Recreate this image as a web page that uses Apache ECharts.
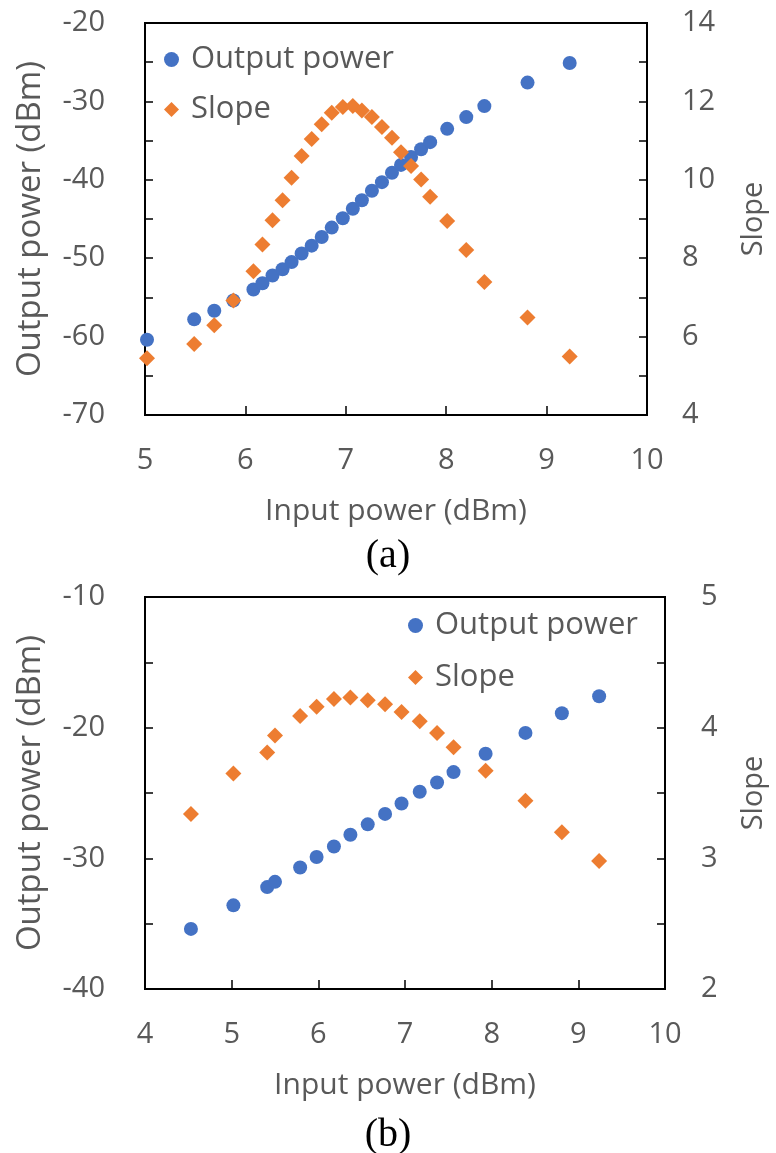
<!DOCTYPE html>
<html>
<head>
<meta charset="utf-8">
<script src="https://cdn.jsdelivr.net/npm/echarts@6/dist/echarts.min.js"></script>
<style>
html,body{margin:0;padding:0;background:#fff;}
#c{width:776px;height:1153px;}
</style>
</head>
<body>
<div id="c"></div>
<script>
// ---- Data: panel (a) ----
const aInput = [5.02,5.49,5.69,5.88,6.08,6.17,6.27,6.37,6.46,6.56,6.66,6.76,6.86,6.97,7.07,7.16,7.26,7.36,7.46,7.55,7.65,7.75,7.84,8.01,8.20,8.38,8.81,9.23];
const aOutput = [-60.4,-57.8,-56.7,-55.4,-54.0,-53.2,-52.2,-51.4,-50.5,-49.4,-48.4,-47.3,-46.1,-44.9,-43.7,-42.6,-41.4,-40.3,-39.1,-38.1,-37.1,-36.1,-35.2,-33.5,-32.0,-30.6,-27.6,-25.1];
const aSlope = [5.45,5.81,6.29,6.92,7.67,8.35,8.97,9.48,10.05,10.61,11.04,11.42,11.71,11.86,11.88,11.77,11.60,11.35,11.07,10.70,10.35,10.01,9.57,8.95,8.21,7.39,6.49,5.49];

// ---- Data: panel (b) ----
const bInput = [4.53,5.02,5.41,5.50,5.79,5.98,6.18,6.37,6.57,6.77,6.96,7.17,7.37,7.56,7.93,8.39,8.81,9.24];
const bOutput = [-35.4,-33.6,-32.2,-31.8,-30.7,-29.9,-29.1,-28.2,-27.4,-26.6,-25.8,-24.9,-24.2,-23.4,-22.0,-20.4,-18.9,-17.6];
const bSlope = [3.34,3.65,3.81,3.94,4.09,4.16,4.22,4.23,4.21,4.18,4.12,4.05,3.96,3.85,3.67,3.44,3.20,2.98];

const names = ['Output power', 'Slope'];
const panelLabels = ['(a)', '(b)'];
const xTitle = 'Input power (dBm)';
const yLeftTitle = 'Output power (dBm)';
const yRightTitle = 'Slope';

const BLUE = '#4472C4', ORANGE = '#ED7D31', GREY = '#595959';
const FONT = 'Open Sans';

function pairs(xs, ys){ return xs.map((x,i)=>[x, ys[i]]); }

function xAxisCfg(grid, min, max){
  return {
    type:'value', gridIndex:grid, min:min, max:max, interval:1,
    name:xTitle, nameLocation:'middle', nameGap:81,
    nameTextStyle:{color:GREY, fontSize:30, fontFamily:FONT},
    axisLine:{show:true, onZero:false, lineStyle:{color:'#000', width:2}},
    axisTick:{show:true, inside:true, length:9, lineStyle:{color:'#000', width:1.5}},
    axisLabel:{color:GREY, fontSize:29, fontFamily:FONT, margin:31},
    splitLine:{show:false}
  };
}
function yAxisCfg(grid, pos, min, max, interval, labelStep, title, nameGap, nameSize, margin){
  return {
    type:'value', gridIndex:grid, position:pos, min:min, max:max, interval:interval,
    name:title, nameLocation:'middle', nameRotate:90, nameGap:nameGap,
    nameTextStyle:{color:GREY, fontSize:nameSize, fontFamily:FONT},
    axisLine:{show:true, onZero:false, lineStyle:{color:'#000', width:2}},
    axisTick:{show:true, inside:true, length:8, lineStyle:{color:'#000', width:1.5}},
    axisLabel:{color:GREY, fontSize:29, fontFamily:FONT, margin:margin,
      formatter:function(v){
        const r = Math.round(v/labelStep*1000)/1000;
        return Math.abs(r - Math.round(r)) < 1e-6 ? String(v) : '';
      }},
    splitLine:{show:false}
  };
}

function legendCfg(left, top, gap){
  return {orient:'vertical', left:left, top:top, itemWidth:15, itemHeight:15, itemGap:gap,
    data:[{name:names[0], icon:'circle', itemStyle:{}},{name:names[1], icon:'diamond'}],
    textStyle:{color:GREY, fontSize:31, fontFamily:FONT, padding:[0,0,0,7]}};
}

const chart = echarts.init(document.getElementById('c'), null, {renderer:'canvas'});
chart.setOption({
  backgroundColor:'#fff',
  animation:false,
  grid:[
    {left:145, top:23, width:507, height:392, show:true, borderColor:'#000', borderWidth:2, backgroundColor:'transparent'},
    {left:145, top:597, width:524, height:392, show:true, borderColor:'#000', borderWidth:2, backgroundColor:'transparent'}
  ],
  xAxis:[ xAxisCfg(0,5,10), xAxisCfg(1,4,10) ],
  yAxis:[
    yAxisCfg(0,'left',-70,-20,5,10,yLeftTitle,98,33,40),
    yAxisCfg(0,'right',4,14,1,2,yRightTitle,92,29,35),
    yAxisCfg(1,'left',-40,-10,5,10,yLeftTitle,98,33,40),
    yAxisCfg(1,'right',2,5,0.5,1,yRightTitle,74,29,36)
  ],
  legend:[ legendCfg(159, 39, 19), legendCfg(403, 605, 21) ],
  graphic:[
    {type:'text', left:'center', top:536, style:{text:panelLabels[0], font:'40px "Liberation Serif"', fill:'#000'}},
    {type:'text', left:'center', top:1115, style:{text:panelLabels[1], font:'40px "Liberation Serif"', fill:'#000'}}
  ],
  series:[
    {name:names[0], type:'scatter', xAxisIndex:0, yAxisIndex:0, symbol:'circle', symbolSize:14,
     itemStyle:{color:BLUE, opacity:1}, data:pairs(aInput,aOutput), z:2},
    {name:names[1], type:'scatter', xAxisIndex:0, yAxisIndex:1, symbol:'diamond', symbolSize:16,
     itemStyle:{color:ORANGE, opacity:1}, data:pairs(aInput,aSlope), z:3},
    {name:names[0], type:'scatter', xAxisIndex:1, yAxisIndex:2, symbol:'circle', symbolSize:14,
     itemStyle:{color:BLUE, opacity:1}, data:pairs(bInput,bOutput), z:2},
    {name:names[1], type:'scatter', xAxisIndex:1, yAxisIndex:3, symbol:'diamond', symbolSize:16,
     itemStyle:{color:ORANGE, opacity:1}, data:pairs(bInput,bSlope), z:3}
  ]
});
</script>
</body>
</html>
